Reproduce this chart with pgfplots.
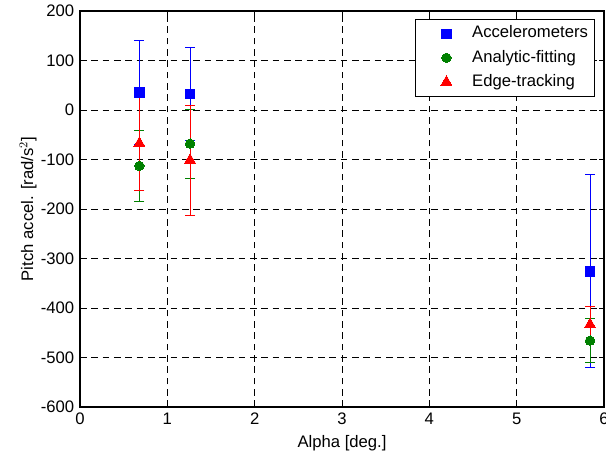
\documentclass[border=0pt]{standalone}
\usepackage{fontspec}
\setmainfont{Liberation Sans}
\usepackage{pgfplots}
\pgfplotsset{compat=1.18}
\begin{document}
\fontsize{12.5}{15}\selectfont
\begin{tikzpicture}[font=\fontsize{12.5}{15}\selectfont]
\begin{axis}[
  scale only axis,
  width=393pt, height=297pt,
  xmin=0, xmax=6, ymin=-600, ymax=200,
  xtick={0,1,2,3,4,5,6},
  ytick={-600,-500,-400,-300,-200,-100,0,100,200},
  /pgf/number format/assume math mode=true,
  tick align=inside,
  xtick pos=both, ytick pos=both,
  major tick length=4pt,
  tick style={black, line width=0.6pt},
  axis line style={black, line width=0.8pt},
  grid=major,
  major grid style={black, line width=0.5pt, dash pattern=on 5pt off 3.5pt},
  xlabel={Alpha [deg.]},
  ylabel={Pitch accel. [rad/s$^2$]},
  xlabel style={at={(axis description cs:0.5,-0.0909)}, anchor=center},
  ylabel style={at={(axis description cs:-0.0992,0.5)}, anchor=center},
  legend cell align=left,
  legend style={at={(1,1)}, anchor=north east, xshift=-6.75pt, yshift=-6pt,
    draw=black, line width=0.6pt, fill=white,
    inner xsep=3pt, inner ysep=2.5pt,
    nodes={inner sep=2pt, text height=0.75em, text depth=0.25em},
    row sep=1.6pt},
  legend image code/.code={
    \path (0pt,-1pt) (37pt,1pt);
    \draw[#1] plot coordinates {(20pt,0pt)};
  },
]
\addplot[blue, only marks, mark=square*, mark size=3.5pt, mark options={draw=blue, fill=blue, line width=0pt},
  error bars/.cd, y dir=both, y explicit,
  error bar style={blue, line width=0.6pt},
  error mark options={blue, line width=0.6pt, mark size=3.75pt, rotate=90}]
  coordinates {(0.68,35) +- (0,105) (1.26,32) +- (0,94) (5.84,-326) +- (0,195)};
\addlegendentry{Accelerometers}
\addplot[color={rgb,255:red,0;green,128;blue,0}, only marks, mark=*, mark size=3.5pt,
  mark options={line width=0pt},
  error bars/.cd, y dir=both, y explicit,
  error bar style={line width=0.6pt},
  error mark options={line width=0.6pt, mark size=3.75pt, rotate=90}]
  coordinates {(0.68,-113) +- (0,71) (1.26,-68) +- (0,70) (5.84,-466) +- (0,44)};
\addlegendentry{Analytic-fitting}
\addplot[red, only marks, mark=triangle*, mark size=4.7pt, mark options={line width=0pt},
  error bars/.cd, y dir=both, y explicit,
  error bar style={line width=0.6pt},
  error mark options={line width=0.6pt, mark size=3.75pt, rotate=90}]
  coordinates {(0.68,-67) +- (0,95) (1.26,-101) +- (0,111) (5.84,-433) +- (0,37)};
\addlegendentry{Edge-tracking}
\end{axis}
\pgfresetboundingbox
\useasboundingbox ([xshift=-60pt,yshift=-35.25pt]current axis.south west) rectangle ([xshift=1.5pt,yshift=8.25pt]current axis.north east);
\end{tikzpicture}
\end{document}
